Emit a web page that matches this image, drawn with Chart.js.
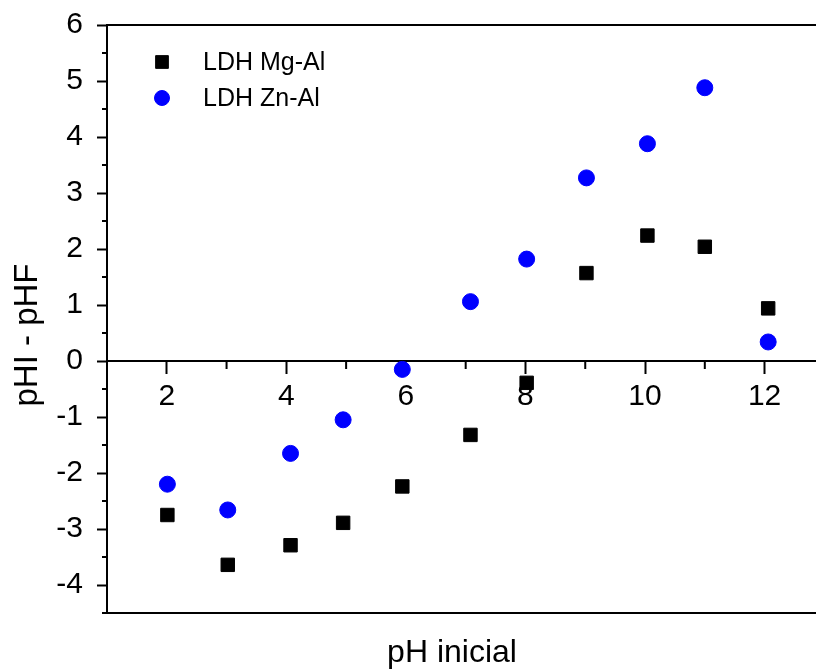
<!DOCTYPE html>
<html>
<head>
<meta charset="utf-8">
<script src="https://cdn.jsdelivr.net/npm/chart.js@4.4.0/dist/chart.umd.min.js"></script>
<style>
    html, body { margin: 0; padding: 0; background: #fff; overflow: hidden; }
    #myChartPh { display: block; }
</style>
</head>
<body>
<canvas id="myChartPh" width="816" height="671"></canvas>
<script>
// pH inicial (x) and pHI - pHF (y)
var mgAlX = [2.01, 3.02, 4.07, 4.95, 5.94, 7.08, 8.02, 9.02, 10.04, 11.0, 12.06];
var mgAlY = [-2.75, -3.64, -3.29, -2.89, -2.24, -1.32, -0.39, 1.57, 2.24, 2.04, 0.94];
var znAlX = [2.01, 3.02, 4.07, 4.95, 5.94, 7.08, 8.02, 9.02, 10.04, 11.0, 12.06];
var znAlY = [-2.2, -2.66, -1.65, -1.05, -0.15, 1.06, 1.82, 3.27, 3.88, 4.88, 0.34];

var xTickLabels = [2, 4, 6, 8, 10, 12];
var xMinorTicks = [3, 5, 7, 9, 11];
var yTickLabels = [-4, -3, -2, -1, 0, 1, 2, 3, 4, 5, 6];
var yMinorTicks = [-4.5, -3.5, -2.5, -1.5, -0.5, 0.5, 1.5, 2.5, 3.5, 4.5, 5.5];

var FONT = '"Liberation Sans", Arial, sans-serif';

function toPoints(xs, ys) {
    return xs.map(function (x, i) { return { x: x, y: ys[i] }; });
}

function noPad(scale) {
    scale.paddingLeft = 0;
    scale.paddingRight = 0;
    scale.paddingTop = 0;
    scale.paddingBottom = 0;
}

// frame, minor ticks, axis titles and the legend
var decorPlugin = {
    id: 'decor',
    afterDraw: function (chart) {
        var ctx = chart.ctx;
        var area = chart.chartArea;
        var xs = chart.scales.x;
        var ys = chart.scales.y;
        var y0 = ys.getPixelForValue(0);

        ctx.save();
        ctx.strokeStyle = '#000';
        ctx.lineWidth = 2;
        ctx.beginPath();
        ctx.moveTo(area.left, area.top);
        ctx.lineTo(area.right, area.top);
        ctx.moveTo(area.left, area.bottom);
        ctx.lineTo(area.right, area.bottom);
        xMinorTicks.forEach(function (v) {
            var px = xs.getPixelForValue(v);
            ctx.moveTo(px, y0);
            ctx.lineTo(px, y0 + 8);
        });
        yMinorTicks.forEach(function (v) {
            var py = ys.getPixelForValue(v);
            ctx.moveTo(area.left, py);
            ctx.lineTo(area.left - 5, py);
        });
        ctx.stroke();

        ctx.fillStyle = '#000';
        ctx.textAlign = 'center';
        ctx.textBaseline = 'alphabetic';
        ctx.font = '32px ' + FONT;
        ctx.fillText('pH inicial', 452, 662);

        ctx.save();
        ctx.translate(37, 335);
        ctx.rotate(-Math.PI / 2);
        ctx.font = '33px ' + FONT;
        ctx.fillText('pHI - pHF', 0, 0);
        ctx.restore();

        // legend
        ctx.font = '25px ' + FONT;
        ctx.textAlign = 'left';
        ctx.textBaseline = 'middle';
        chart.data.datasets.forEach(function (ds, i) {
            var ly = 62 + i * 36;
            ctx.fillStyle = ds.backgroundColor;
            ctx.strokeStyle = ds.borderColor;
            ctx.lineWidth = 1;
            Chart.helpers.drawPoint(ctx, {
                pointStyle: ds.pointStyle,
                radius: ds.pointStyle === 'rect' ? 9 : 7.5,
                borderWidth: 1,
                rotation: 0
            }, 162, ly);
            ctx.fillStyle = '#000';
            ctx.fillText(ds.label, 203, ly + 1);
        });
        ctx.restore();
    }
};

var ctx = document.getElementById('myChartPh').getContext('2d');
var myChartPh = new Chart(ctx, {
    type: 'scatter',
    data: {
        datasets: [{
            label: 'LDH Mg-Al',
            data: toPoints(mgAlX, mgAlY),
            pointStyle: 'rect',
            pointRadius: 9.5,
            backgroundColor: '#000000',
            borderColor: '#000000',
            borderWidth: 1
        }, {
            label: 'LDH Zn-Al',
            data: toPoints(znAlX, znAlY),
            pointStyle: 'circle',
            pointRadius: 8,
            backgroundColor: '#0000FF',
            borderColor: '#0000FF',
            borderWidth: 1
        }]
    },
    options: {
        responsive: false,
        animation: false,
        layout: { autoPadding: false, padding: { left: 0, right: 0, top: 25, bottom: 58 } },
        plugins: {
            legend: { display: false },
            tooltip: { enabled: false }
        },
        scales: {
            x: {
                type: 'linear',
                position: { y: 0 },
                min: 1,
                max: 12.86,
                border: { color: '#000', width: 2 },
                grid: { display: true, drawOnChartArea: false, drawTicks: true, tickLength: 12, tickWidth: 2, tickColor: '#000' },
                ticks: {
                    stepSize: 1,
                    includeBounds: false,
                    padding: 6,
                    color: '#000',
                    font: { family: FONT, size: 30 },
                    maxRotation: 0,
                    autoSkip: false,
                    callback: function (v) { return xTickLabels.indexOf(v) >= 0 ? String(v) : null; }
                },
                afterFit: noPad
            },
            y: {
                type: 'linear',
                position: 'left',
                min: -4.5,
                max: 6,
                border: { color: '#000', width: 2 },
                grid: { display: true, drawOnChartArea: false, drawTicks: true, tickLength: 10, tickWidth: 2, tickColor: '#000' },
                ticks: {
                    stepSize: 1,
                    includeBounds: false,
                    padding: 14,
                    color: '#000',
                    font: { family: FONT, size: 30 },
                    autoSkip: false,
                    callback: function (v) { return yTickLabels.indexOf(v) >= 0 ? String(v) : null; }
                },
                afterFit: function (scale) { scale.width = 107; noPad(scale); }
            }
        }
    },
    plugins: [decorPlugin]
});
</script>
</body>
</html>
